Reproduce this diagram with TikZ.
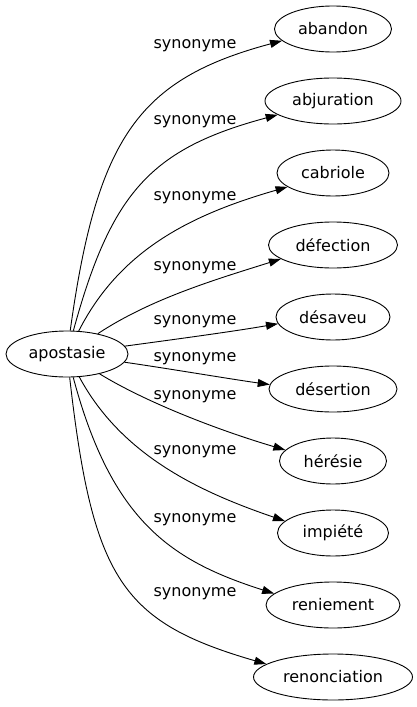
\documentclass[tikz,border=0pt]{standalone}
\usepackage{fontspec}
\setmainfont{DejaVu Sans}
\usetikzlibrary{arrows.meta,shapes.geometric}
\begin{document}
\begin{tikzpicture}[x=1pt,y=-1pt,
  word/.style={ellipse,draw,line width=0.9pt,inner sep=0pt,minimum height=46pt,font=\fontsize{16}{19}\selectfont},
  rel/.style={inner sep=0pt,font=\fontsize{16}{19}\selectfont},
  link/.style={line width=0.9pt,-{Triangle[length=12pt,width=8pt]}}]
\useasboundingbox (0,0) rectangle (417,707);
\node[word,minimum width=122pt] (apo) at (67,354) {apostasie};
\node[word,minimum width=117pt] (n1) at (333,29) {abandon};
\node[word,minimum width=136pt] (n2) at (333,101) {abjuration};
\node[word,minimum width=112pt] (n3) at (333,173) {cabriole};
\node[word,minimum width=129pt] (n4) at (333,245) {défection};
\node[word,minimum width=114pt] (n5) at (333,317) {désaveu};
\node[word,minimum width=128pt] (n6) at (333,389) {désertion};
\node[word,minimum width=107pt] (n7) at (333,461) {hérésie};
\node[word,minimum width=111pt] (n8) at (333,533) {impiété};
\node[word,minimum width=134pt] (n9) at (333,605) {reniement};
\node[word,minimum width=159pt] (n10) at (333,677) {renonciation};
\node[rel] (l1) at (195,46) {synonyme};
\node[rel] (l2) at (195,122) {synonyme};
\node[rel] (l3) at (195,198) {synonyme};
\node[rel] (l4) at (195,268) {synonyme};
\node[rel] (l5) at (195,322) {synonyme};
\node[rel] (l6) at (195,359) {synonyme};
\node[rel] (l7) at (195,397) {synonyme};
\node[rel] (l8) at (195,452) {synonyme};
\node[rel] (l9) at (195,520) {synonyme};
\node[rel] (l10) at (195,594) {synonyme};
\draw[link] (apo) .. controls (97,137) and (139,79) .. (n1.193);
\draw[link] (apo) .. controls (111.4,191.6) and (151.4,148.8) .. (n2.194);
\draw[link] (apo) .. controls (120,250) and (190.5,214.8) .. (n3.197);
\draw[link] (apo) .. controls (151,298.6) and (215.6,279.5) .. (n4.195);
\draw[link] (apo) .. controls (170,340) and (230,332) .. (n5.187);
\draw[link] (apo) .. controls (165,368) and (230,379) .. (n6.176);
\draw[link] (apo) .. controls (149,404) and (222.6,431.5) .. (n7.167);
\draw[link] (apo) .. controls (122,456.5) and (201.8,492.6) .. (n8.166);
\draw[link] (apo) .. controls (111.8,521.9) and (171.9,561) .. (n9.169);
\draw[link] (apo) .. controls (92.65,579.3) and (121.75,622.2) .. (n10.169);
\end{tikzpicture}
\end{document}
